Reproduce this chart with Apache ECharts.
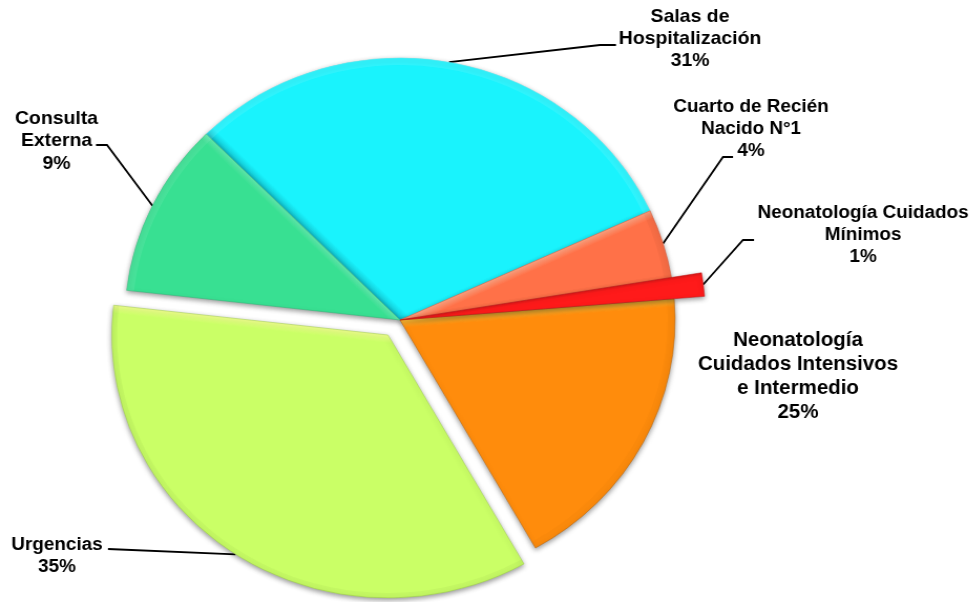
<!DOCTYPE html>
<html>
<head>
<meta charset="utf-8">
<style>
  html, body { margin: 0; background: #fff; overflow: hidden; }
  /* the source picture is stretched sideways, a pie cannot be elliptical on its own */
  #chart { width: 928px; height: 602px; transform: scaleX(1.05); transform-origin: 0 0; }
</style>
<script src="https://cdn.jsdelivr.net/npm/echarts@6/dist/echarts.min.js"></script>
</head>
<body>
<div id="chart"></div>
<script>
const STRETCH = 1.05;
const START_ANGLE = 134.8;

// slice order runs clockwise from the upper left edge of Salas de Hospitalización
const labelTexts = [
  "Salas de\nHospitalización\n31%",
  "Cuarto de Recién\nNacido N°1\n4%",
  "Neonatología Cuidados\nMínimos\n1%",
  "Neonatología\nCuidados Intensivos\ne Intermedio\n25%",
  "Urgencias\n35%",
  "Consulta\nExterna\n9%",
];
// share of the circle each slice really takes in the picture (not the printed %)
const sliceShares = [30.6, 4.25, 1.3, 18.1, 35, 10.75];

const sliceColors = ["#19f3fd", "#ff7148", "#ff1a1a", "#ff8c0c", "#caff66", "#38e092"];
const bevelColors = ["#12c0cc", "#ffa583", "#d81818", "#ffc23c", "#efff8c", "#62eaad"];
const bevelEdges = ["start", "start", "start", "start", "end", "end"];
const bevelWidths = [9, 8, 3, 8, 8, 7];
const rimColors = [
  "rgba(255,255,255,0.1)", "rgba(0,0,0,0.03)", "transparent",
  "rgba(0,0,0,0.02)", "rgba(0,0,0,0.03)", "rgba(255,255,255,0.08)",
];
const edgeColors = ["#4fe6ee", "#d9583a", "#c81010", "#b9640a", "#9fcf4d", "#2cb877"];

// label block centres and leader elbows, picture pixels
const labelCenters = [[690, 39], [751, 129], [863, 235], [798, 377], [57, 556], [56.5, 141]];
const leaderElbows = [
  [[600, 45], [616, 45]],
  [[723, 157], [733, 157]],
  [[743, 240], [754, 240]],
  null,
  [[108, 549]],
  [[107, 145], [96, 145]],
];
const labelFontSizes = [18.5, 18, 18, 19.5, 18, 18.5];
const labelLineHeights = [22, 22, 22, 24, 21.5, 22.5];

// clockwise angle of a slice's first or second edge, from 12 o'clock
const edgeAngle = (i, edge) => {
  const total = sliceShares.reduce((a, b) => a + b, 0);
  const n = edge === "start" ? i : i + 1;
  const before = sliceShares.slice(0, n).reduce((a, b) => a + b, 0);
  return 90 - START_ANGLE + (before / total) * 360;
};

// band of light or shade fading away from one straight edge of the slice
const bevelFill = (i, center) => {
  const rad = (edgeAngle(i, bevelEdges[i]) * Math.PI) / 180;
  const sign = bevelEdges[i] === "start" ? 1 : -1;
  const len = 300;
  return {
    type: "linear",
    global: true,
    x: center[0],
    y: center[1],
    x2: center[0] + sign * len * Math.cos(rad),
    y2: center[1] + sign * len * Math.sin(rad),
    colorStops: [
      { offset: 0, color: bevelColors[i] },
      { offset: bevelWidths[i] / len, color: sliceColors[i] },
      { offset: 1, color: sliceColors[i] },
    ],
  };
};

const hiddenItem = (share) => ({
  value: share,
  itemStyle: { color: "transparent", borderWidth: 0, shadowBlur: 0 },
  label: { show: false },
  labelLine: { show: false },
});

const buildData = (keep, center) =>
  sliceShares.map((share, i) => {
    if (!keep.includes(i)) return hiddenItem(share);
    return {
      value: share,
      itemStyle: {
        color: bevelFill(i, center),
        borderColor: edgeColors[i],
        borderWidth: 0.5,
        shadowBlur: 5,
        shadowColor: "rgba(0,0,0,0.4)",
        shadowOffsetY: 2,
      },
      label: {
        show: true,
        formatter: labelTexts[i],
        fontSize: labelFontSizes[i],
        lineHeight: labelLineHeights[i],
        overflow: "none",
      },
      labelLine: { show: leaderElbows[i] !== null },
    };
  });

const buildRim = (keep) =>
  sliceShares.map((share, i) => {
    if (!keep.includes(i)) return hiddenItem(share);
    return {
      value: share,
      itemStyle: { color: rimColors[i] },
      label: { show: false },
      labelLine: { show: false },
    };
  });

const layoutLabel = (params) => {
  const i = params.dataIndex;
  const out = {
    x: labelCenters[i][0] / STRETCH,
    y: labelCenters[i][1],
    align: "center",
    verticalAlign: "middle",
  };
  if (leaderElbows[i] && params.labelLinePoints) {
    out.labelLinePoints = [
      params.labelLinePoints[0],
      ...leaderElbows[i].map((p) => [p[0] / STRETCH, p[1]]),
    ];
  }
  return out;
};

const basePie = (center, radius, data) => ({
  type: "pie",
  silent: true,
  animation: false,
  clockwise: true,
  startAngle: START_ANGLE,
  center,
  radius,
  data,
  label: {
    position: "outside",
    fontFamily: "Liberation Sans",
    fontWeight: "bold",
    color: "#000",
  },
  labelLine: { show: true, lineStyle: { color: "#000", width: 1.8 } },
  labelLayout: layoutLabel,
  emphasis: { disabled: true },
});

const mainCenter = [400 / STRETCH, 320];
const urgenciasCenter = [388 / STRETCH, 335];

const chart = echarts.init(document.getElementById("chart"), null, { renderer: "canvas" });
chart.setOption({
  backgroundColor: "#fff",
  series: [
    basePie(mainCenter, 262, buildData([5, 0, 1, 3], mainCenter)),
    basePie(mainCenter, 291, buildData([2], mainCenter)),
    basePie(urgenciasCenter, 263, buildData([4], urgenciasCenter)),
    basePie(mainCenter, [255, 262], buildRim([5, 0, 1, 3])),
    basePie(urgenciasCenter, [258, 263], buildRim([4])),
  ],
});
</script>
</body>
</html>
